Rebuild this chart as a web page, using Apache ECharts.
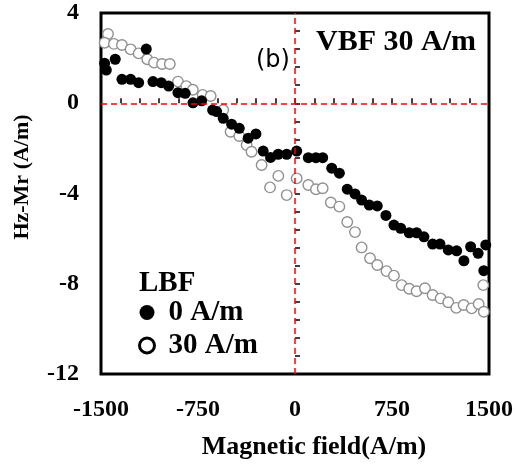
<!DOCTYPE html>
<html>
<head>
<meta charset="utf-8">
<script src="https://cdn.jsdelivr.net/npm/echarts@6/dist/echarts.min.js"></script>
<style>
  html, body { margin: 0; padding: 0; background: #fff; }
  #chart { width: 518px; height: 465px; }
</style>
</head>
<body>
<div id="chart"></div>
<script>
// LBF 0 A/m (filled)
const field0 = [-1472, -1459, -1390, -1150, -1338, -1271, -1209, -1098, -1034, -977, -905, -849, -789, -722, -637, -606, -555, -490, -431, -362, -302, -246, -189, -130, -64, 13, 103, 162, 214, 284, 343, 404, 464, 515, 574, 636, 703, 765, 817, 883, 940, 997, 1064, 1121, 1185, 1250, 1306, 1358, 1416, 1475, 1460];
const hz0 = [1.77, 1.47, 1.95, 2.40, 1.06, 1.06, 0.91, 0.96, 0.91, 0.76, 0.47, 0.44, 0.02, 0.11, -0.30, -0.37, -0.67, -0.93, -1.11, -1.55, -1.36, -2.12, -2.40, -2.26, -2.26, -2.12, -2.41, -2.41, -2.41, -2.88, -3.10, -3.81, -4.02, -4.29, -4.51, -4.55, -4.97, -5.40, -5.54, -5.74, -5.74, -5.92, -6.24, -6.24, -6.50, -6.54, -6.98, -6.36, -6.65, -6.28, -7.42];

// LBF 30 A/m (open)
const field30 = [-1446, -1472, -1400, -1338, -1271, -1209, -1142, -1090, -1028, -968, -905, -841, -790, -714, -652, -555, -498, -431, -374, -336, -258, -193, -129, -64, 13, 103, 162, 214, 277, 343, 404, 464, 515, 580, 636, 707, 765, 825, 883, 940, 1005, 1064, 1126, 1185, 1247, 1304, 1366, 1420, 1456, 1460];
const hz30 = [3.07, 2.68, 2.63, 2.58, 2.39, 2.21, 1.95, 1.80, 1.74, 1.74, 0.96, 0.76, 0.60, 0.37, 0.32, -0.30, -1.26, -1.45, -1.85, -2.15, -2.74, -3.73, -3.22, -4.07, -3.33, -3.62, -3.81, -3.77, -4.40, -4.58, -5.26, -5.71, -6.39, -6.87, -7.17, -7.44, -7.64, -8.06, -8.22, -8.33, -8.20, -8.50, -8.65, -8.82, -9.07, -8.94, -9.09, -8.90, -8.06, -9.24];

const xTickLabels = [-1500, -750, 0, 750, 1500];
const yTickLabels = [-12, -8, -4, 0, 4];
const seriesNames = ["0 A/m", "30 A/m"];

const serif = "'Liberation Serif', 'Times New Roman', serif";
const pair = (xs, ys) => xs.map((x, i) => [x, ys[i]]);
const isLabel = (list, v) => list.some((t) => Math.abs(t - v) < 1e-6);

const chart = echarts.init(document.getElementById("chart"));

const option = {
  animation: false,
  grid: {
    left: 101, right: 29, top: 13, bottom: 91,
    show: true, borderColor: "#000", borderWidth: 3,
  },
  xAxis: {
    type: "value", min: -1500, max: 1500, interval: 150,
    axisLine: { show: false },
    axisTick: { inside: true, length: 5, lineStyle: { color: "#000", width: 1.5 } },
    splitLine: { show: false },
    axisLabel: {
      margin: 24, color: "#000", fontFamily: serif, fontWeight: "bold", fontSize: 24,
      formatter: (v) => (isLabel(xTickLabels, v) ? String(Math.round(v)) : ""),
    },
  },
  yAxis: {
    type: "value", min: -12, max: 4, interval: 0.8,
    axisLine: { show: false },
    axisTick: { inside: true, length: 5, lineStyle: { color: "#000", width: 1.5 } },
    splitLine: { show: false },
    axisLabel: {
      margin: 22, color: "#000", fontFamily: serif, fontWeight: "bold", fontSize: 24,
      formatter: (v) => (isLabel(yTickLabels, v) ? String(Math.round(v)) : ""),
    },
  },
  legend: {
    orient: "vertical", left: 133, top: 293, itemWidth: 15, itemHeight: 15, itemGap: 4,
    textStyle: { color: "#000", fontFamily: serif, fontWeight: "bold", fontSize: 29, padding: [0, 0, 0, 9] },
    data: [
      { name: seriesNames[0], icon: "circle", itemStyle: { color: "#000", borderWidth: 0 } },
      { name: seriesNames[1], icon: "circle", itemStyle: { color: "#fff", borderColor: "#000", borderWidth: 3 } },
    ],
  },
  graphic: [
    { type: "text", left: 139, top: 269, style: { text: "LBF", fill: "#000", font: "bold 29px " + serif } },
    { type: "text", left: 316, top: 27, style: { text: "VBF 30 A/m", fill: "#000", font: "bold 30px " + serif } },
    { type: "text", left: 256, top: 49, style: { text: "(b)", fill: "#000", font: "24px 'DejaVu Sans', sans-serif" } },
    {
      type: "text", x: 22, y: 177, rotation: Math.PI / 2,
      style: { text: "Hz-Mr (A/m)", fill: "#000", font: "bold 22px " + serif, align: "center", verticalAlign: "middle" },
    },
    {
      type: "text", x: 314, y: 447,
      style: { text: "Magnetic field(A/m)", fill: "#000", font: "bold 26px " + serif, align: "center", verticalAlign: "middle" },
    },
  ],
  series: [
    {
      name: seriesNames[1], type: "scatter", symbol: "circle", symbolSize: 10.5,
      itemStyle: { color: "#fff", borderColor: "#909090", borderWidth: 1.4, opacity: 1 },
      data: pair(field30, hz30),
      z: 2,
    },
    {
      name: seriesNames[0], type: "scatter", symbol: "circle", symbolSize: 11,
      itemStyle: { color: "#000", opacity: 1 },
      data: pair(field0, hz0),
      z: 3,
      markLine: {
        silent: true, symbol: "none", label: { show: false },
        lineStyle: { color: "#ff0000", type: [6, 4], width: 1.5 },
        data: [{ xAxis: 0 }, { yAxis: 0 }],
      },
    },
  ],
};

chart.setOption(option);
</script>
</body>
</html>
